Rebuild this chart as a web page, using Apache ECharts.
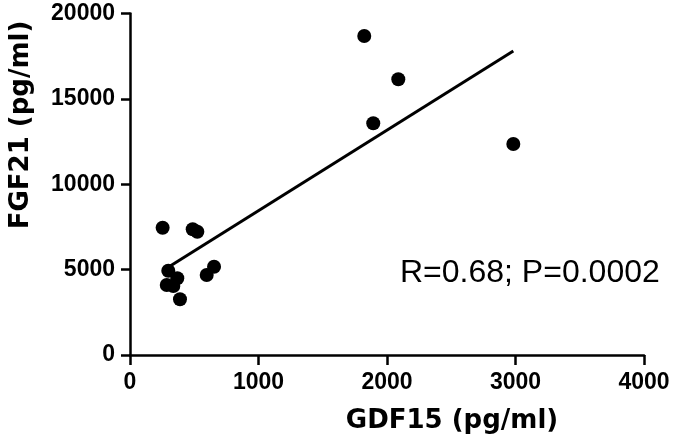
<!DOCTYPE html>
<html>
<head>
<meta charset="utf-8">
<script src="https://cdn.jsdelivr.net/npm/echarts@6/dist/echarts.min.js"></script>
<style>
  html, body { margin: 0; padding: 0; background: #fff; }
  #chart { width: 673px; height: 438px; }
</style>
</head>
<body>
<div id="chart"></div>
<script>
  // values
  var gdf15 = [254, 488, 524, 298, 368, 286, 337, 389, 597, 654, 1823, 2088, 1893, 2983];
  var fgf21 = [7455, 7361, 7221, 4937, 4492, 4100, 4041, 3262, 4685, 5171, 18682, 16146, 13570, 12357];
  var xTicks = [0, 1000, 2000, 3000, 4000];
  var yTicks = [0, 5000, 10000, 15000, 20000];
  var statText = 'R=0.68; P=0.0002';

  var points = gdf15.map(function (x, i) { return [x, fgf21[i]]; });

  // least squares fit, drawn over the range of x
  var n = gdf15.length;
  var mx = gdf15.reduce(function (a, b) { return a + b; }, 0) / n;
  var my = fgf21.reduce(function (a, b) { return a + b; }, 0) / n;
  var sxy = 0, sxx = 0;
  for (var i = 0; i < n; i++) {
    sxy += (gdf15[i] - mx) * (fgf21[i] - my);
    sxx += (gdf15[i] - mx) * (gdf15[i] - mx);
  }
  var slope = sxy / sxx;
  var icpt = my - slope * mx;
  var xmin = Math.min.apply(null, gdf15), xmax = Math.max.apply(null, gdf15);
  var fitLine = [[xmin, icpt + slope * xmin], [xmax, icpt + slope * xmax]];

  var tickFont = { color: '#000', fontFamily: 'Liberation Sans', fontWeight: 'bold', fontSize: 23 };
  var axisStyle = { color: '#000', width: 2.5 };
  var plain = function (v) { return String(v); };

  var myChart = echarts.init(document.getElementById('chart'));
  var option = {
    animation: false,
    backgroundColor: '#fff',
    grid: { left: 130, right: 29, top: 13.5, bottom: 83, outerBoundsMode: 'none' },
    xAxis: {
      type: 'value',
      min: xTicks[0], max: xTicks[xTicks.length - 1], interval: 1000,
      axisLine: { show: true, lineStyle: axisStyle },
      axisTick: { show: true, length: 10, lineStyle: axisStyle },
      splitLine: { show: false },
      axisLabel: Object.assign({ margin: 16, formatter: plain, showMinLabel: true, showMaxLabel: true }, tickFont)
    },
    yAxis: {
      type: 'value',
      min: yTicks[0], max: yTicks[yTicks.length - 1], interval: 5000,
      axisLine: { show: true, lineStyle: axisStyle },
      axisTick: { show: true, length: 9, lineStyle: axisStyle },
      splitLine: { show: false },
      axisLabel: Object.assign({ margin: 15, formatter: plain }, tickFont)
    },
    graphic: [
      {
        type: 'text', x: 21, y: 125, rotation: Math.PI / 2,
        style: { text: 'FGF21 (pg/ml)', fill: '#000', font: 'bold 26px "DejaVu Sans"', align: 'center', verticalAlign: 'middle' }
      },
      {
        type: 'text', x: 452, y: 421,
        style: { text: 'GDF15 (pg/ml)', fill: '#000', font: 'bold 26px "DejaVu Sans"', align: 'center', verticalAlign: 'middle' }
      },
      {
        type: 'text', x: 400, y: 273,
        style: { text: statText, fill: '#000', font: '32px "Liberation Sans"', align: 'left', verticalAlign: 'middle' }
      }
    ],
    series: [
      {
        type: 'line',
        data: fitLine,
        symbol: 'none',
        lineStyle: { color: '#000', width: 3 },
        z: 2
      },
      {
        type: 'scatter',
        data: points,
        symbol: 'circle',
        symbolSize: 14,
        itemStyle: { color: '#000', opacity: 1 },
        z: 3
      }
    ]
  };
  myChart.setOption(option);
</script>
</body>
</html>
